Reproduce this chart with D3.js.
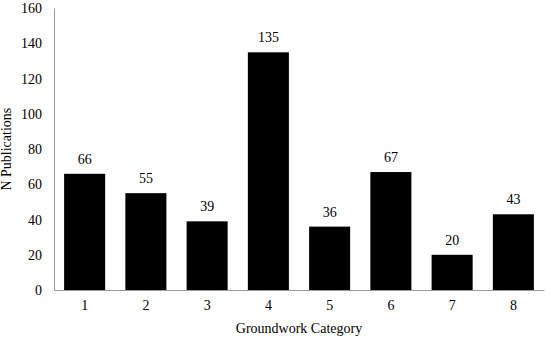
<!DOCTYPE html>
<html><head><meta charset="utf-8">
<script src="https://cdn.jsdelivr.net/npm/d3@7"></script>
<style>body{margin:0;background:#fff}svg{display:block}svg text{font-family:'Liberation Serif','Times New Roman',serif !important}</style>
</head><body>
<script>
const categories = ["1","2","3","4","5","6","7","8"];
const values = [66,55,39,135,36,67,20,43];
const yTicks = [0,20,40,60,80,100,120,140,160];
const xTitle = "Groundwork Category";
const yTitle = "N Publications";

const W=550,H=339;
const m={left:54,right:6,top:8.3,bottom:49};
const svg=d3.select("body").append("svg").attr("width",W).attr("height",H);
const x=d3.scaleBand().domain(categories).range([m.left,W-m.right]).paddingInner(0.33).paddingOuter(0.165);
const y=d3.scaleLinear().domain([0,160]).range([H-m.bottom,m.top]);

svg.selectAll("rect").data(values).join("rect")
  .attr("x",(d,i)=>x(categories[i])).attr("width",x.bandwidth())
  .attr("y",d=>y(d)).attr("height",d=>y(0)-y(d)).attr("fill","#000");

svg.selectAll(".vl").data(values).join("text").attr("class","vl")
  .attr("x",(d,i)=>x(categories[i])+x.bandwidth()/2).attr("y",d=>y(d)-10)
  .attr("text-anchor","middle").attr("font-size",14).text(d=>d);

const yA=svg.append("g").attr("transform",`translate(${m.left},0)`)
  .call(d3.axisLeft(y).tickValues(yTicks).tickSize(0).tickPadding(12));
yA.select(".domain").attr("stroke","#999");
yA.selectAll("text").attr("font-size",14).attr("fill","#000");

const xA=svg.append("g").attr("transform",`translate(0,${y(0)})`)
  .call(d3.axisBottom(x).tickSize(0).tickPadding(10));
xA.select(".domain").attr("stroke","#999");
xA.selectAll("text").attr("font-size",14).attr("fill","#000");

svg.append("text").attr("x",(m.left+W-m.right)/2).attr("y",333).attr("text-anchor","middle")
  .attr("font-size",14).text(xTitle);
svg.append("text").attr("transform",`translate(11,${(m.top+H-m.bottom)/2}) rotate(-90)`)
  .attr("text-anchor","middle").attr("font-size",14).text(yTitle);
</script>
</body></html>
